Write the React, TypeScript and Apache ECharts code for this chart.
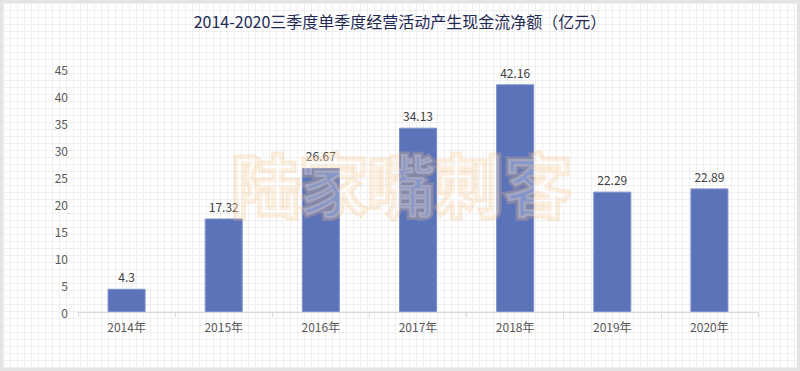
import React, { useEffect, useRef } from "react";
import * as echarts from "echarts";

const titleText = "2014-2020三季度单季度经营活动产生现金流净额（亿元）";
const categories = ["2014年", "2015年", "2016年", "2017年", "2018年", "2019年", "2020年"];
const values = [4.3, 17.32, 26.67, 34.13, 42.16, 22.29, 22.89];
const watermark = "陆家嘴刺客";

export default function App() {
  const ref = useRef<HTMLDivElement>(null);
  useEffect(() => {
    document.body.style.margin = "0";
    const chart = echarts.init(ref.current!, null, { renderer: "svg" });
    const font = '"Noto Sans CJK SC", "Noto Sans", sans-serif';
    chart.setOption({
      animation: false,
      textStyle: { fontFamily: font },
      title: {
        text: titleText,
        left: "center",
        top: 5,
        textStyle: { fontSize: 16, fontWeight: "normal", color: "#1f2b55", fontFamily: font },
      },
      grid: { left: 75, right: 39, top: 66, bottom: 56, containLabel: false },
      xAxis: {
        type: "category",
        data: categories,
        axisLine: { lineStyle: { color: "#d9d9d9" } },
        axisTick: { show: true, alignWithLabel: false, length: 5, lineStyle: { color: "#d9d9d9" } },
        axisLabel: { color: "#595959", fontSize: 12, margin: 8 },
      },
      yAxis: {
        type: "value",
        min: 0,
        max: 45,
        interval: 5,
        axisLine: { show: false },
        axisTick: { show: false },
        splitLine: { show: false },
        axisLabel: { color: "#595959", fontSize: 12, margin: 10 },
      },
      series: [
        {
          type: "bar",
          data: values,
          barWidth: 38,
          itemStyle: { color: "#5b73b9", borderColor: "#7d8fcb", borderWidth: 1 },
          label: { show: true, position: "top", color: "#404040", fontSize: 12, distance: 6 },
        },
      ],
      graphic: [
        {
          type: "text",
          left: 226,
          top: 143,
          z: 100,
          style: {
            text: watermark,
            fontSize: 68,
            fontWeight: "bold",
            fontFamily: font,
            fill: "rgba(255,255,255,0.25)",
            stroke: "rgba(245,190,125,0.28)",
            lineWidth: 5,
          },
        },
      ],
    });
    return () => chart.dispose();
  }, []);
  return (
    <div
      style={{
        width: 800,
        height: 371,
        boxSizing: "border-box",
        border: "3px solid #e4e4e4",
        backgroundColor: "#ffffff",
        backgroundImage:
          "linear-gradient(to right, #efefef 1px, transparent 1px), linear-gradient(to bottom, #efefef 1px, transparent 1px)",
        backgroundSize: "7px 7px",
      }}
    >
      <div ref={ref} style={{ width: 794, height: 365 }} />
    </div>
  );
}
